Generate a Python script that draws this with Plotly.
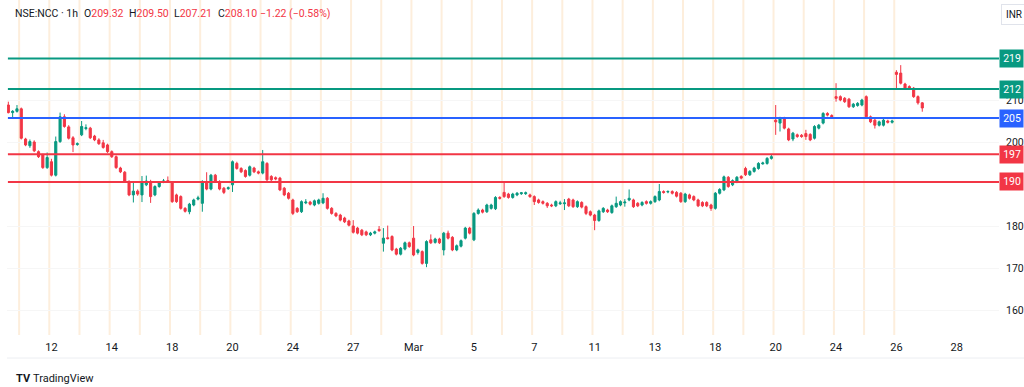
import plotly.graph_objects as go

# ---------------- data (1h candles, NSE:NCC, Feb 10 - Mar 26 2025) ----------------
# trading sessions shown on the time axis (7 hourly bars per session)
sessions = ["Feb10", "Feb11", "Feb12", "Feb13", "Feb14", "Feb17", "Feb18", "Feb19", "Feb20",
            "Feb21", "Feb24", "Feb25", "Feb27", "Feb28", "Mar3", "Mar4", "Mar5", "Mar6",
            "Mar7", "Mar10", "Mar11", "Mar12", "Mar13", "Mar17", "Mar18", "Mar19", "Mar20",
            "Mar21", "Mar24", "Mar25", "Mar26", "Mar27", "Mar28"]
bars_per_session = 7
first_bar_in_view = 4          # first visible bar is the 5th bar of Feb 10

open_ = [
    208.8, 207.0, 207.3,
    207.9, 200.7, 199.1, 200.0, 197.7, 196.9, 193.9,
    195.3, 192.1, 200.1, 206.0, 203.6, 201.0, 199.4,
    201.7, 203.2, 203.3, 201.4, 200.5, 199.8, 199.3,
    197.7, 196.5, 193.8, 192.8, 190.6, 187.4, 188.3,
    187.4, 189.8, 190.6, 187.4, 189.4, 190.5, 190.8,
    190.4, 187.4, 187.0, 184.2, 183.4, 185.0, 186.4,
    185.4, 190.6, 188.8, 192.1, 190.6, 189.0, 188.9,
    189.8, 194.9, 193.7, 193.2, 192.1, 193.8, 192.9,
    192.6, 194.9, 191.8, 191.5, 191.4, 189.0, 187.8,
    186.2, 184.2, 183.4, 185.5, 185.7, 185.0, 185.4,
    185.5, 186.6, 184.2, 183.0, 182.6, 181.9, 181.2,
    180.0, 179.5, 179.0, 178.6, 177.9, 178.3, 179.2,
    175.9, 177.2, 177.5, 174.5, 173.3, 174.5, 176.0,
    177.1, 173.7, 173.9, 171.1, 176.7, 176.1, 176.9,
    174.3, 178.3, 177.3, 174.3, 175.2, 177.1, 179.5,
    176.7, 183.0, 183.8, 183.4, 184.2, 184.1, 186.8,
    188.0, 187.6, 186.8, 187.4, 187.7, 187.7, 187.4,
    187.0, 186.2, 185.8, 185.4, 185.0, 184.8, 185.3,
    185.3, 186.4, 186.2, 184.6, 185.6, 184.6, 183.4,
    182.6, 181.3, 183.4, 183.8, 183.2, 184.6, 185.0,
    185.5, 186.2, 186.2, 185.4, 185.0, 185.8, 185.4,
    185.8, 186.2, 188.2, 188.1, 188.2, 188.0, 187.8,
    185.8, 187.4, 187.0, 186.2, 185.6, 185.6, 185.0,
    184.2, 187.8, 188.6, 191.6, 189.8, 190.5, 191.8,
    193.7, 192.2, 193.0, 193.7, 194.8, 194.9, 196.1,
    205.2, 204.5, 205.7, 203.1, 200.7, 201.7, 201.6,
    202.0, 201.8, 200.9, 203.3, 204.5, 206.8, 206.3,
    210.8, 210.8, 210.4, 210.2, 208.4, 208.7, 208.8,
    210.8, 206.0, 205.2, 204.0, 204.0, 205.0, 204.7,
    216.6, 216.4, 213.8, 213.2, 212.8, 210.8, 209.32,
]
high = [
    209.6, 207.6, 208.8,
    208.2, 201.0, 200.6, 200.4, 198.0, 197.2, 197.5,
    196.0, 201.3, 207.0, 206.6, 204.0, 201.4, 199.9,
    205.0, 204.2, 203.6, 201.7, 200.9, 200.5, 199.6,
    198.0, 196.8, 194.1, 193.1, 190.9, 190.4, 188.7,
    191.9, 192.0, 191.0, 189.7, 190.7, 191.2, 191.8,
    190.7, 187.7, 187.3, 184.5, 185.5, 186.5, 187.2,
    190.9, 192.8, 192.4, 192.4, 190.9, 189.3, 189.4,
    195.6, 195.3, 194.0, 193.5, 194.4, 194.1, 193.2,
    198.1, 195.2, 192.1, 191.8, 191.7, 189.3, 188.1,
    186.5, 184.5, 186.1, 186.4, 186.0, 186.3, 186.5,
    187.8, 186.9, 184.5, 183.3, 182.9, 182.2, 181.5,
    181.4, 179.8, 179.3, 178.9, 178.6, 178.9, 180.0,
    179.5, 180.1, 177.8, 174.8, 175.0, 176.3, 176.3,
    180.0, 174.6, 174.2, 176.6, 178.0, 177.2, 177.2,
    178.6, 178.9, 177.6, 175.6, 176.8, 179.8, 179.8,
    183.3, 184.2, 184.1, 185.3, 185.3, 187.1, 187.1,
    190.5, 187.9, 187.9, 188.1, 188.1, 188.2, 187.7,
    187.3, 186.5, 186.1, 185.7, 185.3, 186.1, 186.0,
    186.4, 186.7, 186.5, 186.1, 185.9, 184.9, 183.7,
    182.9, 183.9, 184.5, 184.1, 185.1, 187.0, 186.1,
    186.4, 188.7, 186.5, 185.7, 185.9, 186.1, 186.1,
    187.3, 190.0, 188.5, 188.5, 188.5, 188.3, 188.1,
    187.9, 187.7, 187.3, 186.5, 185.9, 185.9, 185.3,
    188.1, 189.0, 192.0, 191.9, 191.1, 191.9, 192.1,
    194.1, 193.3, 194.1, 195.2, 195.3, 196.4, 197.1,
    208.8, 206.0, 206.0, 203.4, 202.4, 202.0, 201.9,
    202.9, 202.1, 204.0, 204.3, 207.1, 207.1, 206.6,
    214.0, 211.1, 210.7, 210.5, 209.3, 209.5, 210.3,
    211.1, 206.3, 205.5, 205.1, 205.5, 205.3, 205.3,
    217.1, 218.3, 214.1, 213.5, 213.1, 211.1, 209.50,
]
low = [
    206.8, 205.8, 207.0,
    200.6, 199.0, 198.6, 197.6, 196.2, 193.6, 193.6,
    191.8, 191.8, 199.8, 203.4, 200.6, 197.6, 199.1,
    201.4, 202.8, 200.7, 200.2, 199.3, 198.4, 197.4,
    196.2, 193.6, 192.6, 190.4, 187.1, 185.6, 187.2,
    185.7, 189.5, 185.5, 187.1, 189.1, 190.2, 190.3,
    185.5, 185.5, 183.9, 183.2, 182.8, 184.7, 186.1,
    183.4, 188.5, 188.5, 190.3, 188.5, 187.6, 188.6,
    188.1, 193.4, 192.6, 191.5, 191.8, 192.6, 192.3,
    192.3, 190.7, 190.7, 190.9, 188.3, 187.1, 186.3,
    182.6, 183.1, 183.1, 185.2, 184.9, 184.7, 185.1,
    185.2, 183.9, 182.7, 182.1, 181.1, 180.7, 179.9,
    178.2, 178.0, 177.6, 177.6, 177.6, 178.0, 178.6,
    173.9, 176.8, 174.0, 173.0, 173.0, 174.2, 174.8,
    172.8, 173.2, 170.8, 170.2, 175.7, 175.8, 175.7,
    173.0, 176.8, 174.0, 174.0, 174.9, 176.8, 178.0,
    176.4, 182.7, 183.0, 183.1, 183.9, 183.8, 186.3,
    186.7, 186.5, 186.5, 187.1, 187.4, 187.4, 186.7,
    185.0, 185.3, 185.1, 184.3, 184.5, 184.5, 185.0,
    183.8, 184.5, 184.3, 184.3, 184.2, 182.6, 182.3,
    179.0, 181.0, 183.1, 183.1, 182.9, 184.3, 184.7,
    184.6, 185.9, 184.3, 184.5, 184.7, 185.1, 185.1,
    185.5, 185.9, 187.7, 187.8, 187.5, 186.8, 185.5,
    185.5, 186.3, 185.9, 184.5, 184.5, 184.5, 183.6,
    183.9, 187.5, 188.3, 189.1, 189.5, 190.2, 191.1,
    191.9, 191.9, 192.7, 193.4, 194.6, 194.6, 195.8,
    201.7, 202.5, 203.0, 200.2, 200.2, 201.0, 201.0,
    200.5, 200.2, 200.6, 203.0, 204.2, 206.1, 205.7,
    209.6, 209.7, 209.3, 208.1, 208.1, 208.4, 208.5,
    205.7, 204.5, 203.2, 203.7, 203.7, 204.4, 204.4,
    212.8, 213.7, 212.5, 212.5, 210.5, 208.9, 207.21,
]
close = [
    207.0, 207.3, 207.9,
    200.9, 199.3, 200.1, 197.9, 196.5, 193.9, 196.3,
    192.1, 200.1, 206.0, 203.7, 200.9, 199.3, 199.6,
    203.7, 203.4, 201.0, 200.5, 199.6, 198.7, 197.7,
    196.5, 193.9, 192.9, 190.7, 187.4, 188.3, 187.6,
    190.6, 190.7, 187.0, 189.4, 190.4, 190.7, 190.5,
    185.8, 185.8, 184.2, 183.5, 185.2, 186.2, 186.7,
    190.6, 188.8, 192.1, 190.6, 188.8, 188.0, 189.1,
    195.3, 193.7, 192.9, 191.8, 194.1, 192.9, 192.6,
    195.3, 191.0, 191.0, 191.2, 188.6, 187.4, 186.6,
    183.0, 183.4, 185.8, 185.7, 185.2, 186.0, 186.2,
    186.6, 184.2, 183.0, 182.4, 181.4, 181.0, 180.2,
    178.5, 178.3, 177.9, 177.9, 178.3, 178.6, 178.9,
    177.1, 177.0, 174.3, 173.3, 174.7, 176.0, 175.1,
    173.1, 174.3, 171.1, 176.3, 176.0, 176.9, 176.0,
    178.3, 177.1, 174.3, 175.3, 176.5, 179.5, 178.3,
    183.0, 183.8, 183.3, 185.0, 185.0, 186.8, 186.6,
    187.0, 186.8, 187.6, 187.8, 187.9, 187.9, 187.0,
    185.8, 185.6, 185.4, 184.8, 184.8, 185.8, 185.5,
    185.5, 184.8, 184.6, 185.8, 184.5, 183.0, 182.6,
    181.3, 183.6, 184.2, 183.4, 184.8, 185.4, 185.8,
    185.7, 186.6, 184.6, 184.8, 185.6, 185.4, 185.8,
    187.0, 188.2, 188.0, 188.2, 187.8, 187.1, 185.8,
    187.6, 186.6, 186.2, 184.8, 184.8, 184.8, 184.2,
    187.8, 188.7, 191.7, 189.4, 190.8, 191.6, 191.4,
    192.2, 193.0, 193.8, 194.9, 195.0, 196.1, 196.5,
    204.8, 205.7, 203.3, 200.5, 202.1, 201.3, 201.3,
    201.3, 200.5, 203.7, 204.0, 206.8, 206.4, 206.0,
    210.4, 210.0, 209.6, 208.4, 209.0, 209.2, 210.0,
    206.0, 204.8, 204.0, 204.8, 205.2, 204.7, 205.0,
    216.1, 214.0, 212.8, 212.8, 210.8, 209.32, 208.10,
]

# horizontal levels drawn on the chart
level_values = [219.9, 212.6, 205.7, 197.1, 190.5]
level_labels = ["219", "212", "205", "197", "190"]

# price axis ticks (190 and 220 sit under the level tags)
price_ticks = [160, 170, 180, 200, 210]

# time axis labels (session they sit on)
tick_sessions = ["Feb12", "Feb14", "Feb18", "Feb20", "Feb24", "Feb27", "Mar3", "Mar5",
                 "Mar7", "Mar11", "Mar13", "Mar18", "Mar20", "Mar24", "Mar26", "Mar28"]
tick_labels = ["12", "14", "18", "20", "24", "27", "Mar", "5", "7", "11", "13", "18",
               "20", "24", "26", "28"]

# header legend
symbol_text = "NSE:NCC · 1h"
ohlc_last = {"O": "209.32", "H": "209.50", "L": "207.21", "C": "208.10"}
change_text = "−1.22 (−0.58%)"

# ---------------- styling ----------------
GREEN = "#089981"
RED = "#F23645"
BLUE = "#2962FF"
TEXT = "#131722"
level_colors = [GREEN, GREEN, BLUE, RED, RED]
FONT = "Roboto"

W, H = 1024, 387
ML, MR, MT, MB = 7, 25, 0, 52
PLOT_H = H - MT - MB

x = [first_bar_in_view + i for i in range(len(close))]

fig = go.Figure()
fig.add_trace(go.Candlestick(
    x=x, open=open_, high=high, low=low, close=close,
    increasing=dict(line=dict(color=GREEN, width=1), fillcolor=GREEN),
    decreasing=dict(line=dict(color=RED, width=1), fillcolor=RED),
    whiskerwidth=0, hoverinfo="skip", showlegend=False,
))

shapes = []
# session break stripes
for d in range(1, len(sessions) - 2):
    xs = d * bars_per_session - 0.5
    shapes.append(dict(type="line", xref="x", yref="paper", x0=xs, x1=xs, y0=0, y1=1,
                       line=dict(color="#fdeedc", width=2), layer="below"))
# horizontal levels
for v, c in zip(level_values, level_colors):
    shapes.append(dict(type="line", xref="x", yref="y", x0=x[0] - 0.1, x1=240, y0=v, y1=v,
                       line=dict(color=c, width=2), layer="above"))
# time-axis bottom border
shapes.append(dict(type="line", xref="paper", yref="paper", x0=0, x1=(W - ML) / (W - ML - MR),
                   y0=-23 / PLOT_H, y1=-23 / PLOT_H, line=dict(color="#eceef2", width=1)))

annotations = []
for v, lab, c in zip(level_values, level_labels, level_colors):
    annotations.append(dict(xref="paper", yref="y", x=1, y=v, xanchor="left", yanchor="middle",
                            text=lab, showarrow=False, bgcolor=c, borderpad=2,
                            font=dict(family=FONT, size=10.5, color="white"),
                            width=19, align="right"))

def header(px, txt, color, size=10.5):
    annotations.append(dict(xref="paper", yref="paper", x=0, y=1, xanchor="left",
                            yanchor="middle", xshift=px - ML, yshift=-13, text=txt,
                            showarrow=False, font=dict(family=FONT, size=size, color=color)))

header(13, symbol_text, TEXT)
hx = {"O": 82, "H": 127, "L": 172, "C": 216}
for k, val in ohlc_last.items():
    header(hx[k], f"<span style='color:{TEXT}'>{k}</span>{val}", RED)
header(258, change_text, RED)

# INR button at the top right corner
annotations.append(dict(xref="paper", yref="paper", x=1, y=1, xanchor="left", yanchor="middle",
                        xshift=1001 - (W - MR), yshift=-14, text="INR", showarrow=False,
                        font=dict(family=FONT, size=10, color=TEXT), bordercolor="#e0e3eb",
                        borderwidth=1, borderpad=4, bgcolor="white"))
# TradingView logo
annotations.append(dict(xref="paper", yref="paper", x=0, y=0, xanchor="left", yanchor="middle",
                        xshift=14 - ML, yshift=-(378 - PLOT_H), text="<b>TV</b>", showarrow=False,
                        font=dict(family=FONT, size=11, color=TEXT)))
annotations.append(dict(xref="paper", yref="paper", x=0, y=0, xanchor="left", yanchor="middle",
                        xshift=31 - ML, yshift=-(378 - PLOT_H), text="TradingView", showarrow=False,
                        font=dict(family=FONT, size=11, color=TEXT)))

tickvals = [sessions.index(s) * bars_per_session for s in tick_sessions]

px_per_bar = 4.311
x0_pix = -8.9  # pixel of bar 0
x_range = [(ML - x0_pix) / px_per_bar, (W - MR - x0_pix) / px_per_bar]
px_per_unit = 4.2
y_top = 210 + (100 - MT) / px_per_unit
y_range = [y_top - PLOT_H / px_per_unit, y_top]

fig.update_layout(
    width=W, height=H, margin=dict(l=ML, r=MR, t=MT, b=MB),
    paper_bgcolor="white", plot_bgcolor="white",
    font=dict(family=FONT, size=11, color=TEXT),
    shapes=shapes, annotations=annotations,
    xaxis=dict(range=x_range, tickvals=tickvals, ticktext=tick_labels, showgrid=False,
               zeroline=False, showline=False, ticks="", rangeslider=dict(visible=False),
               tickfont=dict(family=FONT, size=11, color=TEXT), ticklabelstandoff=4),
    yaxis=dict(range=y_range, side="right", tickvals=price_ticks, showgrid=True,
               gridcolor="#f6f6f6", zeroline=False, showline=False, ticks="",
               tickfont=dict(family=FONT, size=10.5, color=TEXT), ticklabelstandoff=6),
    hovermode=False,
)

fig.write_html("out.html", config={"displayModeBar": False},
               post_script="document.body.style.margin='0';document.body.style.overflow='hidden';")
